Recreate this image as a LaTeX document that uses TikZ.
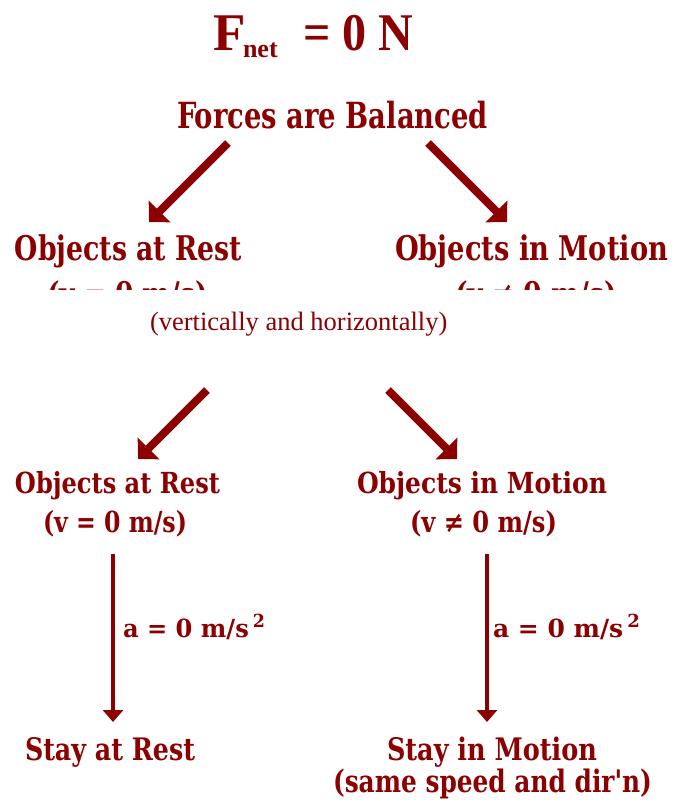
\documentclass[tikz,border=0pt]{standalone}
\usepackage{fontspec}
\setmainfont{DejaVu Serif}
\newfontfamily\timesf{Liberation Serif}
\usetikzlibrary{arrows.meta}
\definecolor{dred}{RGB}{139,0,0}
\newcommand{\fitw}[2]{\resizebox{#1}{\height}{#2}}
\newcommand{\fsz}[1]{\fontsize{#1}{#1}\selectfont}
\newcommand{\straightq}{{\addfontfeature{Ligatures=TeXOff}'}}
\tikzset{
  lbl/.style={inner sep=0pt, outer sep=0pt, anchor=base west, text=dred},
  slab/.style={lbl, font=\bfseries},
  bigarrow/.style={draw=dred, line width=8pt, -{Triangle[length=15pt,width=30pt]}, fill=dred},
  thinarrow/.style={draw=dred, line width=3.5pt, -{Triangle[length=12pt,width=20pt]}, fill=dred}
}
\begin{document}
\begin{tikzpicture}[x=1pt,y=-1pt]
\useasboundingbox (0,0) rectangle (675,807);
% title
\node[lbl] (titleF) at (213,50) {\timesf\bfseries\fsz{53}F};
\node[lbl] (titlesub) at (243,57) {\timesf\bfseries\fsz{26}net};
\node[lbl] (titleeq) at (303,50) {\timesf\bfseries\fsz{53}\fitw{110pt}{= 0 N}};
\node[slab] (forces) at (177,128) {\fsz{36}\fitw{311pt}{Forces are Balanced}};
% row 1
\node[slab] (restA) at (15,260) {\fsz{34}\fitw{227pt}{Objects at Rest}};
\node[slab] (motA) at (395,260) {\fsz{34}\fitw{273pt}{Objects in Motion}};
\begin{scope}
\clip (0,270) rectangle (675,289);
\node[slab] (vrA) at (47,306) {\fsz{34}\fitw{161pt}{(v = 0 m/s)}};
\node[slab] (vmA) at (455,306) {\fsz{34}\fitw{162pt}{(v ≠ 0 m/s)}};
\end{scope}
\node[lbl] (vert) at (150,330) {\timesf\fsz{26.5}(vertically and horizontally)};
% row 2
\node[slab] (restB) at (15,493) {\fsz{29}\fitw{205pt}{Objects at Rest}};
\node[slab] (motB) at (357,493) {\fsz{29}\fitw{250pt}{Objects in Motion}};
\node[slab] (vrB) at (43,532) {\fsz{29}\fitw{144pt}{(v = 0 m/s)}};
\node[slab] (vmB) at (410,532) {\fsz{29}\fitw{147pt}{(v ≠ 0 m/s)}};
\node[slab] (accA) at (123,637) {\fsz{25}\fitw{142pt}{a = 0 m/s\,\raisebox{10pt}{\fsz{18}2}}};
\node[slab] (accB) at (493,637) {\fsz{25}\fitw{147pt}{a = 0 m/s\,\raisebox{10pt}{\fsz{18}2}}};
\node[slab] (stayA) at (25,760) {\fsz{31}\fitw{170pt}{Stay at Rest}};
\node[slab] (stayB) at (387,760) {\fsz{31}\fitw{210pt}{Stay in Motion}};
\node[slab] (same) at (333,792) {\fsz{31}\fitw{319pt}{(same speed and dir\straightq n)}};
% arrows
\coordinate (a1s) at (228,143); \coordinate (a1e) at (149,222);
\coordinate (a2s) at (428,143); \coordinate (a2e) at (507,222);
\coordinate (a3s) at (207,390); \coordinate (a3e) at (138,459);
\coordinate (a4s) at (388,390); \coordinate (a4e) at (457,459);
\coordinate (v1s) at (113,554); \coordinate (v1e) at (113,722);
\coordinate (v2s) at (487,554); \coordinate (v2e) at (487,722);
\draw[bigarrow] (a1s) -- (a1e);
\draw[bigarrow] (a2s) -- (a2e);
\draw[bigarrow] (a3s) -- (a3e);
\draw[bigarrow] (a4s) -- (a4e);
\draw[thinarrow] (v1s) -- (v1e);
\draw[thinarrow] (v2s) -- (v2e);
\end{tikzpicture}
\end{document}
